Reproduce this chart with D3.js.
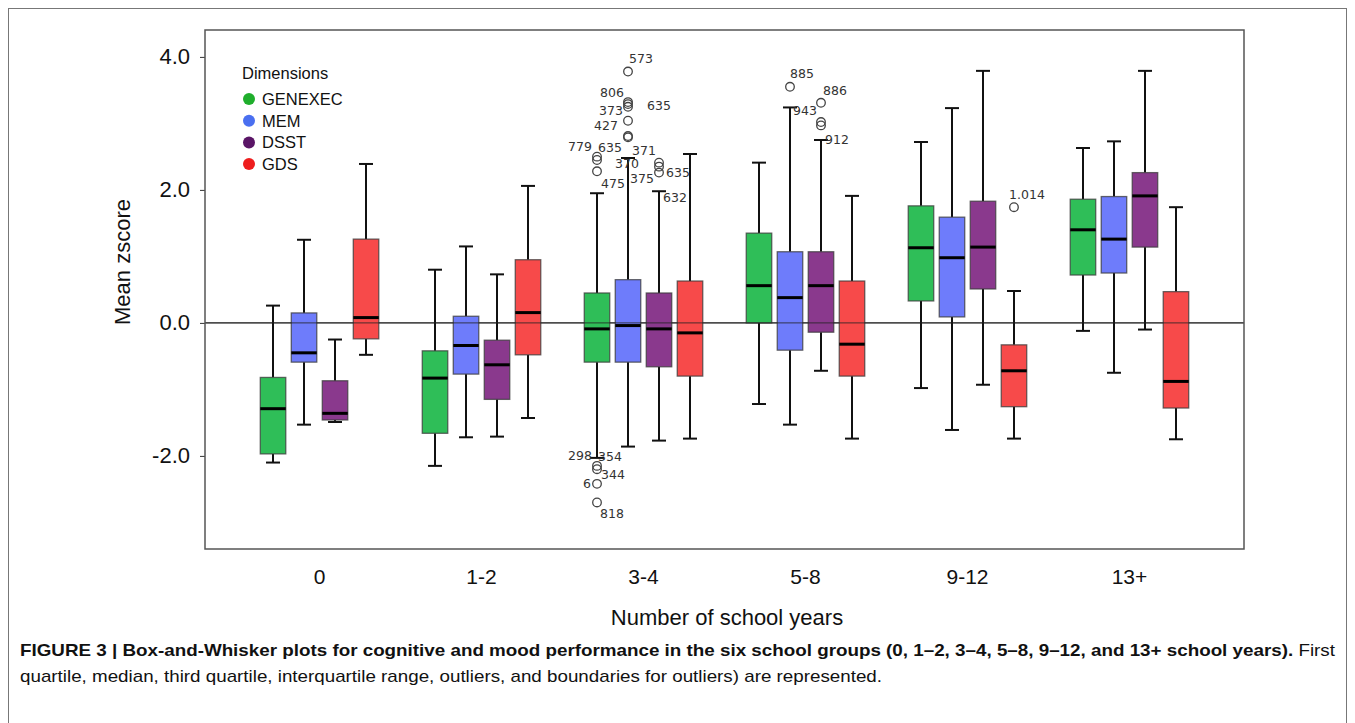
<!DOCTYPE html>
<html><head><meta charset="utf-8">
<script src="https://cdn.jsdelivr.net/npm/d3@7/dist/d3.min.js"></script>
<style>
html,body{margin:0;padding:0;background:#fff;}
svg{display:block;}
</style></head>
<body>
<svg id="chart" width="1355" height="723"></svg>
<script>
// ---------- data ----------
const categories = ["0", "1-2", "3-4", "5-8", "9-12", "13+"];
const series = ["GENEXEC", "MEM", "DSST", "GDS"];
const yTicks = [4.0, 2.0, 0.0, -2.0];
const yTickLabels = ["4.0", "2.0", "0.0", "-2.0"];
// [lower whisker, Q1, median, Q3, upper whisker] per category
const genexec = [
  [-2.10, -1.97, -1.29, -0.82, 0.26],
  [-2.15, -1.66, -0.83, -0.42, 0.80],
  [-2.03, -0.59, -0.09, 0.45, 1.95],
  [-1.22, 0.00, 0.56, 1.35, 2.41],
  [-0.98, 0.33, 1.13, 1.76, 2.72],
  [-0.12, 0.72, 1.40, 1.86, 2.63]
];
const mem = [
  [-1.53, -0.59, -0.45, 0.15, 1.25],
  [-1.72, -0.77, -0.34, 0.10, 1.15],
  [-1.86, -0.59, -0.04, 0.65, 2.48],
  [-1.53, -0.41, 0.38, 1.07, 3.24],
  [-1.61, 0.09, 0.98, 1.59, 3.23],
  [-0.75, 0.75, 1.26, 1.90, 2.73]
];
const dsst = [
  [-1.49, -1.46, -1.36, -0.87, -0.25],
  [-1.71, -1.15, -0.63, -0.26, 0.73],
  [-1.77, -0.66, -0.09, 0.45, 1.98],
  [-0.72, -0.14, 0.56, 1.07, 2.75],
  [-0.93, 0.51, 1.14, 1.83, 3.79],
  [-0.10, 1.14, 1.91, 2.26, 3.79]
];
const gds = [
  [-0.48, -0.24, 0.08, 1.26, 2.39],
  [-1.43, -0.48, 0.155, 0.95, 2.06],
  [-1.74, -0.80, -0.15, 0.63, 2.54],
  [-1.74, -0.80, -0.32, 0.63, 1.91],
  [-1.74, -1.26, -0.72, -0.33, 0.48],
  [-1.75, -1.28, -0.88, 0.47, 1.74]
];
// outliers: [category, series, value]
const outliers = [
  ["3-4", "GENEXEC", 2.50], ["3-4", "GENEXEC", 2.45], ["3-4", "GENEXEC", 2.28],
  ["3-4", "GENEXEC", -2.15], ["3-4", "GENEXEC", -2.20], ["3-4", "GENEXEC", -2.42], ["3-4", "GENEXEC", -2.70],
  ["3-4", "MEM", 3.78], ["3-4", "MEM", 3.32], ["3-4", "MEM", 3.29], ["3-4", "MEM", 3.25],
  ["3-4", "MEM", 3.04], ["3-4", "MEM", 2.81], ["3-4", "MEM", 2.79],
  ["3-4", "DSST", 2.41], ["3-4", "DSST", 2.35], ["3-4", "DSST", 2.26],
  ["5-8", "MEM", 3.55],
  ["5-8", "DSST", 3.31], ["5-8", "DSST", 3.02], ["5-8", "DSST", 2.97],
  ["9-12", "GDS", 1.74]
];
// case labels: [category, series, anchor value, text]
const caseLabels = [
  ["3-4", "GENEXEC", 2.50, "779"], ["3-4", "GENEXEC", 2.45, "635"], ["3-4", "GENEXEC", 2.28, "475"],
  ["3-4", "GENEXEC", -2.15, "298"], ["3-4", "GENEXEC", -2.20, "354"], ["3-4", "GENEXEC", -2.20, "344"],
  ["3-4", "GENEXEC", -2.42, "6"], ["3-4", "GENEXEC", -2.70, "818"],
  ["3-4", "MEM", 3.78, "573"], ["3-4", "MEM", 3.32, "806"], ["3-4", "MEM", 3.25, "373"],
  ["3-4", "MEM", 3.04, "427"], ["3-4", "MEM", 2.79, "371"], ["3-4", "MEM", 2.48, "370"],
  ["3-4", "DSST", 3.25, "635"], ["3-4", "DSST", 2.26, "375"], ["3-4", "DSST", 2.35, "635"],
  ["3-4", "DSST", 1.98, "632"],
  ["5-8", "MEM", 3.55, "885"], ["5-8", "MEM", 3.24, "943"],
  ["5-8", "DSST", 3.31, "886"], ["5-8", "DSST", 2.97, "912"],
  ["9-12", "GDS", 1.74, "1.014"]
];
// label offsets in px (layout only), parallel to caseLabels
const labelOffsets = [
  [-17, -10], [13, -12], [16, 12],
  [-17, -10], [13, -13], [16, 5],
  [-10, 0], [15, 11],
  [13, -13], [-16, -10], [-17, 4],
  [-22, 5], [16, 13], [-1, 6],
  [0, -1], [-17, 6], [19, 6],
  [16, 6],
  [12, -13], [15, 3],
  [14, -12], [16, 14],
  [13, -13]
];

const statsBySeries = { GENEXEC: genexec, MEM: mem, DSST: dsst, GDS: gds };
const fills = { GENEXEC: "#2fbe58", MEM: "#6e7cfb", DSST: "#8a398d", GDS: "#f74a4a" };
const legendColors = { GENEXEC: "#1fae2c", MEM: "#4a6ff0", DSST: "#5a1566", GDS: "#ee1d1d" };

// ---------- layout ----------
const svg = d3.select("#chart");
const plot = { left: 205, top: 30, right: 1244, bottom: 549 };
const font = "'Liberation Sans', Arial, sans-serif";

// outer figure border
svg.append("rect").attr("x", 8.5).attr("y", 8.5).attr("width", 1338).attr("height", 740)
  .attr("fill", "none").attr("stroke", "#777").attr("stroke-width", 1);

const x = d3.scaleBand().domain(categories).range([plot.left, plot.right])
  .paddingInner(0).paddingOuter(0.207);
const xs = d3.scalePoint().domain(series).range([-46.5, 46.5]);
const y = d3.scaleLinear().domain([-3.4, 4.4]).range([plot.bottom, plot.bottom - 7.8 * 66.5]);
const boxW = 25.5, capW = 14;
const cx = (c, s) => x(c) + x.bandwidth() / 2 + xs(s);

// zero reference line
svg.append("line").attr("x1", plot.left).attr("x2", plot.right)
  .attr("y1", y(0)).attr("y2", y(0)).attr("stroke", "#222").attr("stroke-width", 1);

// y axis
const yAxis = d3.axisLeft(y).tickValues(yTicks)
  .tickFormat((d, i) => yTickLabels[i]).tickSize(5).tickPadding(10);
const ya = svg.append("g").attr("transform", `translate(${plot.left},0)`).call(yAxis);
ya.select(".domain").remove();
ya.selectAll(".tick line").attr("stroke", "#333");
ya.selectAll(".tick text").attr("font-family", font).attr("font-size", 22).attr("fill", "#111");

// x axis labels
const xAxis = d3.axisBottom(x).tickSize(0).tickPadding(20);
const xa = svg.append("g").attr("transform", `translate(0,${plot.bottom})`).call(xAxis);
xa.select(".domain").remove();
xa.selectAll(".tick text").attr("font-family", font).attr("font-size", 21).attr("fill", "#111");

// boxes
const boxData = [];
series.forEach(s => categories.forEach((c, i) => {
  const [lo, q1, med, q3, hi] = statsBySeries[s][i];
  boxData.push({ s, c, lo, q1, med, q3, hi });
}));
const g = svg.append("g");
const bx = g.selectAll("g.box").data(boxData).join("g").attr("class", "box");
// whiskers
bx.append("line").attr("x1", d => cx(d.c, d.s)).attr("x2", d => cx(d.c, d.s))
  .attr("y1", d => y(d.hi)).attr("y2", d => y(d.q3)).attr("stroke", "#111").attr("stroke-width", 2);
bx.append("line").attr("x1", d => cx(d.c, d.s)).attr("x2", d => cx(d.c, d.s))
  .attr("y1", d => y(d.q1)).attr("y2", d => y(d.lo)).attr("stroke", "#111").attr("stroke-width", 2);
bx.append("line").attr("x1", d => cx(d.c, d.s) - capW / 2).attr("x2", d => cx(d.c, d.s) + capW / 2)
  .attr("y1", d => y(d.hi)).attr("y2", d => y(d.hi)).attr("stroke", "#111").attr("stroke-width", 2);
bx.append("line").attr("x1", d => cx(d.c, d.s) - capW / 2).attr("x2", d => cx(d.c, d.s) + capW / 2)
  .attr("y1", d => y(d.lo)).attr("y2", d => y(d.lo)).attr("stroke", "#111").attr("stroke-width", 2);
// box
bx.append("rect").attr("x", d => cx(d.c, d.s) - boxW / 2).attr("width", boxW)
  .attr("y", d => y(d.q3)).attr("height", d => y(d.q1) - y(d.q3))
  .attr("fill", d => fills[d.s]).attr("stroke", "#3a3a3a").attr("stroke-opacity", 0.75).attr("stroke-width", 1.3);
// median
bx.append("line").attr("x1", d => cx(d.c, d.s) - boxW / 2).attr("x2", d => cx(d.c, d.s) + boxW / 2)
  .attr("y1", d => y(d.med)).attr("y2", d => y(d.med)).attr("stroke", "#000").attr("stroke-width", 3);

// zero line over boxes
svg.append("line").attr("x1", plot.left).attr("x2", plot.right)
  .attr("y1", y(0)).attr("y2", y(0)).attr("stroke", "#222").attr("stroke-width", 1).attr("stroke-opacity", 0.8);

// outliers
svg.append("g").selectAll("circle").data(outliers).join("circle")
  .attr("cx", d => cx(d[0], d[1])).attr("cy", d => y(d[2])).attr("r", 4.3)
  .attr("fill", "none").attr("stroke", "#444").attr("stroke-width", 1.3);

// case labels
svg.append("g").selectAll("text").data(caseLabels).join("text")
  .attr("x", (d, i) => cx(d[0], d[1]) + labelOffsets[i][0])
  .attr("y", (d, i) => y(d[2]) + labelOffsets[i][1])
  .attr("text-anchor", "middle").attr("dominant-baseline", "central")
  .attr("font-family", "'DejaVu Sans', Verdana, sans-serif").attr("font-size", 12.5).attr("fill", "#333")
  .text(d => d[3]);

// frame
svg.append("rect").attr("x", plot.left).attr("y", plot.top)
  .attr("width", plot.right - plot.left).attr("height", plot.bottom - plot.top)
  .attr("fill", "none").attr("stroke", "#555").attr("stroke-width", 1.5);

// axis titles
svg.append("text").attr("transform", `translate(122,262) rotate(-90)`)
  .attr("text-anchor", "middle").attr("dominant-baseline", "central")
  .attr("font-family", font).attr("font-size", 22).attr("fill", "#111").text("Mean zscore");
svg.append("text").attr("x", 727).attr("y", 617)
  .attr("text-anchor", "middle").attr("dominant-baseline", "central")
  .attr("font-family", font).attr("font-size", 22).attr("fill", "#111").text("Number of school years");

// legend
const lg = svg.append("g");
lg.append("text").attr("x", 242).attr("y", 73).attr("dominant-baseline", "central")
  .attr("font-family", font).attr("font-size", 16.5).attr("fill", "#111").text("Dimensions");
const li = lg.selectAll("g.item").data(series).join("g").attr("class", "item")
  .attr("transform", (d, i) => `translate(249,${99 + i * 21.7})`);
li.append("circle").attr("r", 6).attr("fill", d => legendColors[d]);
li.append("text").attr("x", 13).attr("dominant-baseline", "central")
  .attr("font-family", font).attr("font-size", 16.5).attr("fill", "#111").text(d => d);

// caption
const capFont = "'Liberation Sans Narrow', 'Liberation Sans', Arial, sans-serif";
const c1 = svg.append("text").attr("x", 20).attr("y", 656)
  .attr("font-family", capFont).attr("font-size", 17).attr("fill", "#111")
  .attr("textLength", 1315).attr("lengthAdjust", "spacingAndGlyphs");
c1.append("tspan").attr("font-weight", "bold")
  .text("FIGURE 3 | Box-and-Whisker plots for cognitive and mood performance in the six school groups (0, 1–2, 3–4, 5–8, 9–12, and 13+ school years).");
c1.append("tspan").text(" First");
svg.append("text").attr("x", 20).attr("y", 682)
  .attr("font-family", capFont).attr("font-size", 17).attr("fill", "#111")
  .attr("textLength", 862).attr("lengthAdjust", "spacingAndGlyphs")
  .text("quartile, median, third quartile, interquartile range, outliers, and boundaries for outliers) are represented.");
</script>
</body></html>
